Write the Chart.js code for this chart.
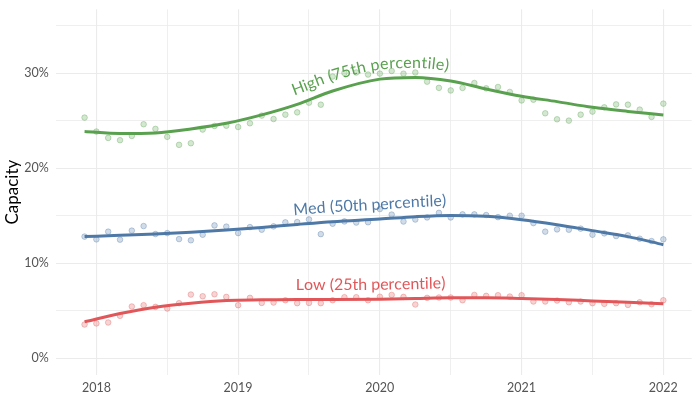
<!DOCTYPE html>
<html>
<head>
<meta charset="utf-8">
<script src="https://cdn.jsdelivr.net/npm/chart.js@4"></script>
<style>
  html, body { margin: 0; padding: 0; background: #fff; }
</style>
</head>
<body>
<canvas id="chart" width="700" height="400"></canvas>
<script>
// monthly observations, Dec 2017 .. Jan 2022
const months = [
  '2017-12',
  '2018-01','2018-02','2018-03','2018-04','2018-05','2018-06','2018-07','2018-08','2018-09','2018-10','2018-11','2018-12',
  '2019-01','2019-02','2019-03','2019-04','2019-05','2019-06','2019-07','2019-08','2019-09','2019-10','2019-11','2019-12',
  '2020-01','2020-02','2020-03','2020-04','2020-05','2020-06','2020-07','2020-08','2020-09','2020-10','2020-11','2020-12',
  '2021-01','2021-02','2021-03','2021-04','2021-05','2021-06','2021-07','2021-08','2021-09','2021-10','2021-11','2021-12',
  '2022-01'
];

const highValues = [25.35, 23.88, 23.21, 22.97, 23.42, 24.65, 24.16, 23.32, 22.48, 22.65,
  24.09, 24.47, 24.5, 24.36, 24.75, 25.56, 25.2, 25.66, 25.9, 26.92,
  26.71, 29.67, 30.05, 30.1, 29.88, 29.98, 30.26, 29.97, 30.1, 29.13,
  28.48, 28.21, 28.47, 28.99, 28.43, 28.57, 28.05, 27.16, 27.24, 25.8,
  25.17, 25.03, 25.66, 25.98, 26.43, 26.74, 26.71, 26.19, 25.42, 26.82];

const medValues = [12.82, 12.53, 13.34, 12.5, 13.45, 13.93, 13.09, 13.19, 12.56, 12.43,
  13.02, 14.0, 13.87, 13.19, 13.82, 13.55, 13.9, 14.32, 14.35, 14.63,
  13.08, 14.18, 14.42, 14.3, 14.33, 15.72, 15.14, 14.41, 14.62, 14.84,
  15.32, 14.84, 15.16, 15.16, 15.09, 14.87, 15.02, 15.02, 14.24, 13.34,
  13.58, 13.55, 13.66, 13.02, 13.16, 12.88, 12.95, 12.6, 12.35, 12.53];

const lowValues = [3.57, 3.68, 3.78, 4.48, 5.46, 5.6, 5.42, 5.25, 5.81, 6.72,
  6.54, 6.75, 6.47, 5.6, 6.37, 5.84, 5.88, 6.12, 5.81, 5.84,
  5.81, 6.12, 6.44, 6.44, 6.12, 6.49, 6.68, 6.47, 5.67, 6.37,
  6.41, 6.41, 6.12, 6.68, 6.58, 6.65, 6.51, 6.65, 5.99, 5.99,
  6.09, 5.91, 5.99, 5.81, 5.74, 5.81, 5.63, 5.91, 5.7, 6.12];

// smoothed trend
const trendMonths = ['2017-12','2018-03','2018-06','2018-09','2018-12','2019-03','2019-06','2019-09',
  '2020-01','2020-04','2020-07','2020-10','2021-01','2021-04','2021-07','2021-10','2022-01'];
const highTrend = [23.88, 23.67, 23.74, 24.16, 24.75, 25.63, 26.74, 28.15,
  29.4, 29.58, 29.2, 28.36, 27.6, 27.03, 26.43, 26.0, 25.63];
const medTrend = [12.82, 12.95, 13.09, 13.27, 13.51, 13.79, 14.1, 14.39,
  14.67, 14.92, 15.05, 14.95, 14.6, 14.07, 13.45, 12.82, 11.97];
const lowTrend = [3.85, 4.72, 5.39, 5.81, 6.09, 6.16, 6.2, 6.2,
  6.23, 6.3, 6.37, 6.37, 6.3, 6.2, 6.05, 5.91, 5.74];

const seriesNames = ['High (75th percentile)', 'Med (50th percentile)', 'Low (25th percentile)'];
const seriesColors = ['89,161,79', '78,121,167', '225,87,89'];
const labelAt = '2019-12';

const xTicks = [2018, 2018.5, 2019, 2019.5, 2020, 2020.5, 2021, 2021.5, 2022];
const yTicks = [0, 5, 10, 15, 20, 25, 30, 35];

const FONT = 'Lato, "Open Sans", sans-serif';

const toYear = m => {
  const [y, mo] = m.split('-').map(Number);
  return y + (mo - 1) / 12;
};

const pairs = (xs, ys) => xs.map((m, i) => ({ x: toYear(m), y: ys[i] }));

const pointSet = (vals, col) => ({
  data: pairs(months, vals),
  showLine: false,
  pointRadius: 2.8,
  pointBorderWidth: 1,
  pointBackgroundColor: 'rgba(' + col + ',0.26)',
  pointBorderColor: 'rgba(' + col + ',0.34)',
  order: 2,
});

const trendSet = (vals, col) => ({
  data: pairs(trendMonths, vals),
  showLine: true,
  pointRadius: 0,
  borderColor: 'rgb(' + col + ')',
  borderWidth: 3,
  cubicInterpolationMode: 'monotone',
  order: 1,
});

// text bent along a trend line
const pathLabels = {
  id: 'pathLabels',
  afterDatasetsDraw(chart) {
    const ctx = chart.ctx;
    const xs = chart.scales.x;
    [3, 4, 5].forEach((dsIndex, k) => {
      const pts = chart.getDatasetMeta(dsIndex).data;
      const path = [];
      for (let i = 0; i < pts.length - 1; i++) {
        const a = pts[i], b = pts[i + 1];
        const c1x = a.cp2x ?? a.x, c1y = a.cp2y ?? a.y;
        const c2x = b.cp1x ?? b.x, c2y = b.cp1y ?? b.y;
        for (let s = 0; s < 24; s++) {
          const t = s / 24, u = 1 - t;
          path.push({
            x: u*u*u*a.x + 3*u*u*t*c1x + 3*u*t*t*c2x + t*t*t*b.x,
            y: u*u*u*a.y + 3*u*u*t*c1y + 3*u*t*t*c2y + t*t*t*b.y,
          });
        }
      }
      path.push({ x: pts[pts.length - 1].x, y: pts[pts.length - 1].y });
      const len = [0];
      for (let i = 1; i < path.length; i++) {
        len.push(len[i - 1] + Math.hypot(path[i].x - path[i - 1].x, path[i].y - path[i - 1].y));
      }
      const at = (s) => {
        let i = 1;
        while (i < path.length - 1 && len[i] < s) i++;
        const p0 = path[i - 1], p1 = path[i];
        const f = (s - len[i - 1]) / ((len[i] - len[i - 1]) || 1);
        return { x: p0.x + (p1.x - p0.x) * f, y: p0.y + (p1.y - p0.y) * f, a: Math.atan2(p1.y - p0.y, p1.x - p0.x) };
      };
      const cx = xs.getPixelForValue(toYear(labelAt));
      let sc = 0;
      for (let i = 1; i < path.length; i++) {
        if (path[i].x >= cx) { sc = len[i]; break; }
      }
      const text = seriesNames[k];
      ctx.save();
      ctx.font = '16px ' + FONT;
      ctx.fillStyle = 'rgb(' + seriesColors[k] + ')';
      ctx.textAlign = 'center';
      ctx.textBaseline = 'alphabetic';
      const total = ctx.measureText(text).width;
      let s = sc - total / 2;
      const off = 9.5;
      for (const ch of text) {
        const w = ctx.measureText(ch).width;
        const p = at(s + w / 2);
        ctx.save();
        ctx.translate(p.x + Math.sin(p.a) * off, p.y - Math.cos(p.a) * off);
        ctx.rotate(p.a);
        ctx.fillText(ch, 0, 0);
        ctx.restore();
        s += w;
      }
      ctx.restore();
    });
  }
};

const gridColor = '#ebebeb';

new Chart(document.getElementById('chart'), {
  type: 'scatter',
  data: {
    datasets: [
      pointSet(highValues, seriesColors[0]),
      pointSet(medValues, seriesColors[1]),
      pointSet(lowValues, seriesColors[2]),
      trendSet(highTrend, seriesColors[0]),
      trendSet(medTrend, seriesColors[1]),
      trendSet(lowTrend, seriesColors[2]),
    ],
  },
  options: {
    responsive: false,
    animation: false,
    layout: { padding: { top: 9.3, right: 8.3, left: 0, bottom: 0 } },
    plugins: { legend: { display: false }, tooltip: { enabled: false } },
    scales: {
      x: {
        type: 'linear',
        min: 2017.713,
        max: 2022.2,
        afterBuildTicks: scale => { scale.ticks = xTicks.map(v => ({ value: v })); },
        afterFit: scale => {
          scale.height = 25;
          scale.paddingLeft = 0; scale.paddingRight = 0;
        },
        border: { display: false },
        grid: {
          color: gridColor,
          lineWidth: c => (c.tick && c.tick.value % 1 === 0) ? 1.1 : 0.8,
          drawTicks: false,
        },
        ticks: {
          padding: 5,
          color: '#555',
          font: { family: FONT, size: 12.5 },
          maxRotation: 0,
          autoSkip: false,
          callback: v => (v % 1 === 0 ? String(v) : ''),
        },
      },
      y: {
        type: 'linear',
        min: -1.75,
        max: 36.75,
        afterBuildTicks: scale => { scale.ticks = yTicks.map(v => ({ value: v })); },
        afterFit: scale => {
          scale.width = 55.7;
          scale.paddingTop = 0; scale.paddingBottom = 0;
        },
        border: { display: false },
        grid: {
          color: gridColor,
          lineWidth: c => (c.tick && c.tick.value % 10 === 0) ? 1.1 : 0.8,
          drawTicks: false,
        },
        title: {
          display: true,
          text: 'Capacity',
          color: '#000',
          font: { family: FONT, size: 17 },
          padding: { top: 2, bottom: 0 },
        },
        ticks: {
          padding: 7,
          color: '#555',
          font: { family: FONT, size: 12.5 },
          autoSkip: false,
          callback: v => (v % 10 === 0 ? v + '%' : ''),
        },
      },
    },
  },
  plugins: [pathLabels],
});
</script>
</body>
</html>
